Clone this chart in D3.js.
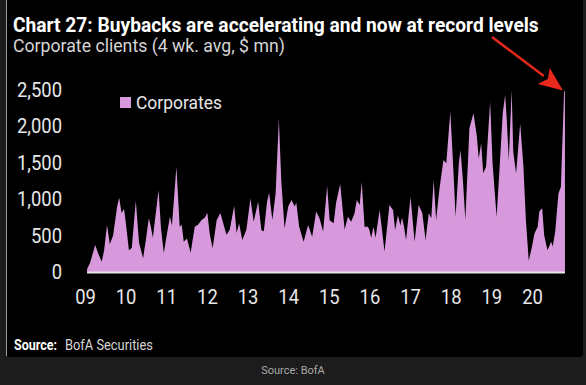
<!DOCTYPE html>
<html>
<head>
<meta charset="utf-8">
<script src="https://cdn.jsdelivr.net/npm/d3@7"></script>
<style>
	html, body { margin: 0; padding: 0; background: #1c1c1c; }
	svg { display: block; }
	.narrow { font-family: Roboto, "Noto Sans", sans-serif; }
</style>
</head>
<body>
<svg id="chart" width="586" height="385"></svg>
<script>
// weekly points, time as decimal year
const weeks = [
	2009.55, 2009.62, 2009.75, 2009.82, 2009.91, 2009.97, 2010.04, 2010.11, 2010.19, 2010.29,
	2010.34, 2010.40, 2010.46, 2010.51, 2010.58, 2010.65, 2010.75, 2010.83, 2010.93, 2011.00,
	2011.07, 2011.12, 2011.17, 2011.24, 2011.31, 2011.37, 2011.44, 2011.51, 2011.59, 2011.64,
	2011.75, 2011.83, 2011.88, 2011.93, 2012.01, 2012.10, 2012.20, 2012.28, 2012.37, 2012.45,
	2012.51, 2012.57, 2012.64, 2012.74, 2012.83, 2012.90, 2012.98, 2013.06, 2013.17, 2013.23,
	2013.29, 2013.37, 2013.47, 2013.57, 2013.65, 2013.76, 2013.84, 2013.90, 2013.98, 2014.03,
	2014.11, 2014.19, 2014.27, 2014.33, 2014.41, 2014.50, 2014.58, 2014.66, 2014.70, 2014.77,
	2014.88, 2014.99, 2015.09, 2015.19, 2015.27, 2015.36, 2015.46, 2015.52, 2015.62, 2015.68,
	2015.78, 2015.89, 2015.97, 2016.05, 2016.13, 2016.19, 2016.26, 2016.31, 2016.38, 2016.46,
	2016.50, 2016.54, 2016.60, 2016.65, 2016.75, 2016.87, 2016.99, 2017.08, 2017.13, 2017.20,
	2017.26, 2017.30, 2017.35, 2017.40, 2017.51, 2017.61, 2017.71, 2017.80, 2017.88, 2017.96,
	2018.02, 2018.08, 2018.14, 2018.22, 2018.32, 2018.39, 2018.49, 2018.55, 2018.62, 2018.70,
	2018.74, 2018.80, 2018.86, 2018.96, 2019.06, 2019.14, 2019.19, 2019.25, 2019.30, 2019.37,
	2019.47, 2019.53, 2019.63, 2019.70, 2019.78, 2019.84, 2019.88, 2019.93, 2020.00, 2020.04,
	2020.11, 2020.21, 2020.29, 2020.35, 2020.42, 2020.50, 2020.56, 2020.64, 2020.68, 2020.75,
	2020.80, 2020.88, 2020.97, 2021.01, 2021.07, 2021.15, 2021.21, 2021.29, 2021.31
];

// Corporate clients buybacks, 4 wk. avg, $ mn
const corporates = [
	40, 120, 370, 260, 140, 300, 645, 380, 500, 900,
	1020, 810, 870, 650, 300, 330, 980, 400, 190, 450,
	740, 620, 470, 800, 1125, 600, 260, 500, 760, 640,
	1447, 620, 650, 415, 460, 265, 620, 650, 715, 750,
	815, 520, 325, 715, 810, 670, 510, 580, 905, 535,
	670, 440, 580, 1010, 690, 965, 575, 560, 965, 1090,
	715, 1080, 2097, 1250, 600, 900, 990, 900, 950, 620,
	415, 645, 485, 830, 740, 555, 1180, 710, 670, 950,
	1210, 585, 760, 690, 800, 990, 920, 1235, 620, 620,
	577, 470, 620, 470, 850, 280, 920, 850, 577, 780,
	640, 750, 620, 440, 1035, 415, 920, 810, 440, 810,
	740, 1265, 715, 1130, 1540, 1495, 2200, 1570, 760, 1495,
	1675, 1265, 715, 1975, 2180, 1880, 1560, 1770, 1355, 1445,
	2340, 1495, 760, 1400, 2180, 2430, 2090, 1540, 2500, 1650,
	1355, 2040, 1445, 715, 155, 350, 530, 620, 830, 875,
	500, 300, 415, 350, 555, 1080, 1170, 2490, 2480
];

const yTicks = [0, 500, 1000, 1500, 2000, 2500];
const yearLabels = ['09', '10', '11', '12', '13', '14', '15', '16', '17', '18', '19', '20'];

const pink = '#d898dc';

// decimal year -> Date
function toDate(d) {
	const y = Math.floor(d);
	const start = Date.UTC(y, 0, 1), end = Date.UTC(y + 1, 0, 1);
	return new Date(start + (d - y) * (end - start));
}

// 원본 폰트가 좁은 글꼴이라 가로로 눌러서 폭을 맞춘다
function squeeze(sel, factor) {
	sel.each(function () {
		const w = this.getComputedTextLength();
		d3.select(this).attr('textLength', w * factor).attr('lengthAdjust', 'spacingAndGlyphs');
	});
}
// 제목처럼 긴 글은 scale 로 눌러서 bbox 도 같이 줄어들게 한다
function fitWidth(sel, width) {
	sel.each(function () {
		const t = d3.select(this);
		const [tx, ty] = [+t.attr('x'), +t.attr('y')];
		const k = width / this.getComputedTextLength();
		t.attr('x', 0).attr('y', 0).attr('transform', `translate(${tx},${ty}) scale(${k},1)`);
	});
}

const data = weeks.map((w, i) => ({ date: toDate(w), value: corporates[i] }));
const svg = d3.select('#chart');

// black card with light left edge
svg.append('rect').attr('x', 6).attr('y', -10).attr('width', 577).attr('height', 367).attr('rx', 4).attr('fill', '#000');
svg.append('line').attr('x1', 6.5).attr('x2', 6.5).attr('y1', 0).attr('y2', 356).attr('stroke', '#9a9a9a').attr('stroke-width', 1);

// year labels sit in the middle of each year
const x = d3.scaleUtc([new Date(Date.UTC(2009, 6, 2)), new Date(Date.UTC(2020, 6, 2))], [85, 532]);
const y = d3.scaleLinear([0, 2500], [272, 90]);

const area = d3.area()
	.x(d => x(d.date))
	.y0(y(0))
	.y1(d => y(d.value));

svg.append('path').attr('d', area(data)).attr('fill', pink);

// baseline
const [x0, x1] = d3.extent(data, d => x(d.date));
svg.append('line')
	.attr('x1', x0).attr('x2', x1)
	.attr('y1', y(0) + 0.5).attr('y2', y(0) + 0.5)
	.attr('stroke', '#e6e6e6').attr('stroke-width', 2);

// y axis, labels only
const yLabels = svg.append('g')
	.attr('transform', 'translate(62,0)')
	.call(d3.axisLeft(y).tickValues(yTicks).tickSize(0).tickPadding(0).tickFormat(d3.format(',')))
	.call(g => g.select('.domain').remove())
	.selectAll('text')
	.attr('class', 'narrow')
	.attr('font-size', 20)
	.attr('fill', '#e8e8e8');

// x axis, labels only
const xLabels = svg.append('g')
	.attr('transform', 'translate(0,290)')
	.call(d3.axisBottom(x)
		.tickValues(yearLabels.map(l => new Date(Date.UTC(2000 + +l, 6, 2))))
		.tickSize(0).tickPadding(0)
		.tickFormat((d, i) => yearLabels[i]))
	.call(g => g.select('.domain').remove())
	.selectAll('text')
	.attr('class', 'narrow')
	.attr('font-size', 20)
	.attr('fill', '#e8e8e8');

// "2,500" is about 45px wide in the picture
const tickFactor = 45 / yLabels.filter(d => d === 2500).node().getComputedTextLength();
squeeze(yLabels, tickFactor);
squeeze(xLabels, tickFactor);

// legend
svg.append('rect').attr('x', 120).attr('y', 97).attr('width', 11).attr('height', 11).attr('fill', pink);
svg.append('text').attr('class', 'narrow').attr('x', 136).attr('y', 109)
	.attr('font-size', 19).attr('fill', '#e8e8e8').text('Corporates')
	.call(fitWidth, 86);

// title and subtitle
svg.append('text').attr('class', 'narrow').attr('x', 13).attr('y', 32)
	.attr('font-size', 21).attr('font-weight', 'bold').attr('fill', '#fff')
	.text('Chart 27: Buybacks are accelerating and now at record levels')
	.call(fitWidth, 526);
svg.append('text').attr('class', 'narrow').attr('x', 13).attr('y', 52)
	.attr('font-size', 19).attr('fill', '#d6d6d6')
	.text('Corporate clients (4 wk. avg, $ mn)')
	.call(fitWidth, 272);

// red arrow pointing at the latest week
const last = data[data.length - 1];
const tip = [x(last.date) - 2, y(last.value) - 1];
const tail = [492, 37];
const dx = tip[0] - tail[0], dy = tip[1] - tail[1];
const len = Math.hypot(dx, dy);
const [ux, uy] = [dx / len, dy / len];
const [headLen, headHalf] = [24, 10];
const base = [tip[0] - ux * headLen, tip[1] - uy * headLen];
svg.append('line')
	.attr('x1', tail[0]).attr('y1', tail[1]).attr('x2', base[0]).attr('y2', base[1])
	.attr('stroke', '#e8271d').attr('stroke-width', 2.5);
svg.append('path')
	.attr('d', d3.line()([
		tip,
		[base[0] - uy * headHalf, base[1] + ux * headHalf],
		[base[0] + ux * 5, base[1] + uy * 5],
		[base[0] + uy * headHalf, base[1] - ux * headHalf]
	]) + 'Z')
	.attr('fill', '#e8271d');

// sources
svg.append('text').attr('class', 'narrow').attr('x', 14).attr('y', 350)
	.attr('font-size', 14).attr('font-weight', 'bold').attr('fill', '#fff')
	.text('Source:').call(fitWidth, 43);
svg.append('text').attr('class', 'narrow').attr('x', 65).attr('y', 350)
	.attr('font-size', 14).attr('fill', '#d6d6d6')
	.text('BofA Securities').call(fitWidth, 88);

svg.append('text').attr('x', 293).attr('y', 374).attr('text-anchor', 'middle')
	.attr('font-family', 'Roboto, sans-serif').attr('font-size', 11).attr('fill', '#a8a8a8')
	.text('Source: BofA');
</script>
</body>
</html>
